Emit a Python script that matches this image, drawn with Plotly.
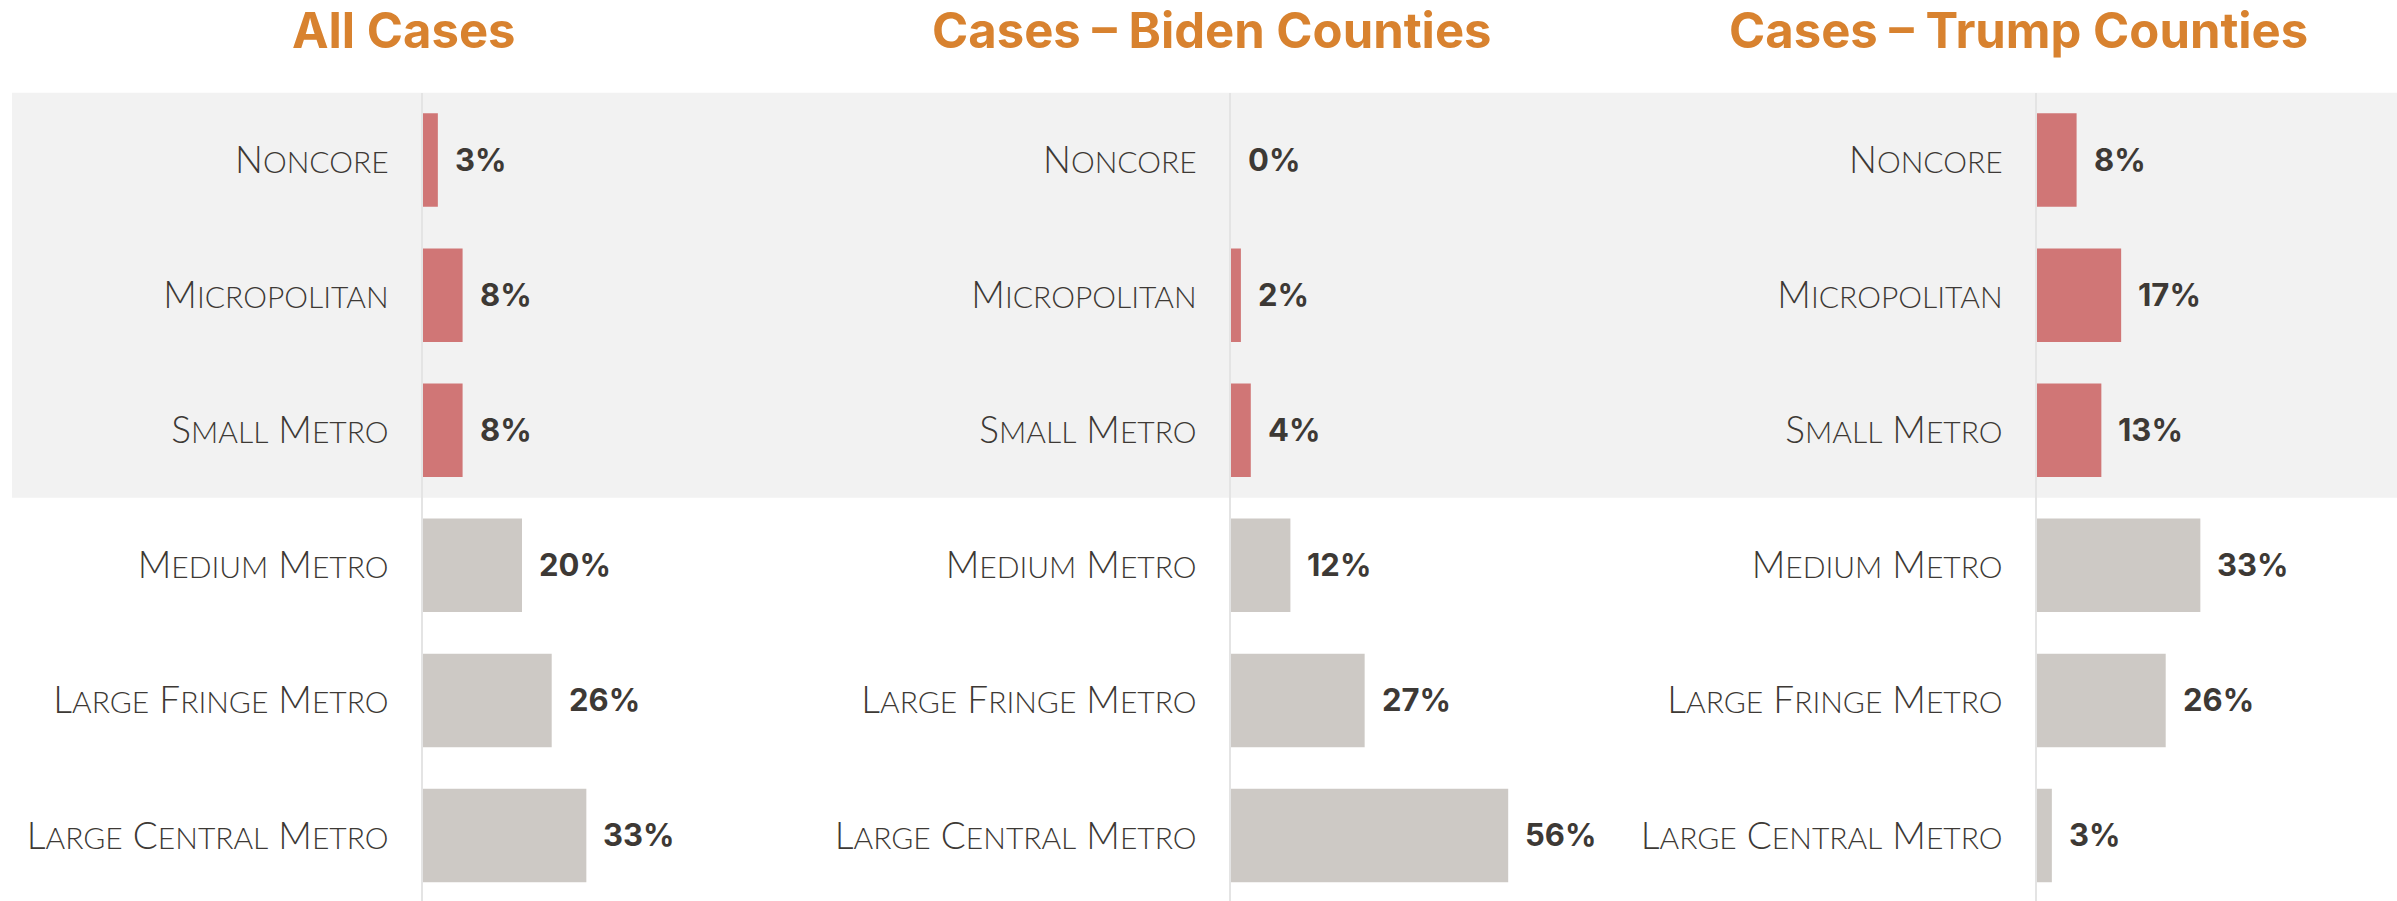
import plotly.graph_objects as go

# ---------------- data ----------------
categories = ["Noncore", "Micropolitan", "Small Metro",
              "Medium Metro", "Large Fringe Metro", "Large Central Metro"]
rural_categories = ["Noncore", "Micropolitan", "Small Metro"]
panel_titles = ["All Cases", "Cases \u2013 Biden Counties", "Cases \u2013 Trump Counties"]
all_cases = [3, 8, 8, 20, 26, 33]
biden_cases = [0, 2, 4, 12, 27, 56]
trump_cases = [8, 17, 13, 33, 26, 3]
series = [all_cases, biden_cases, trump_cases]

# ---------------- style ----------------
W, H = 2397, 901
RED = "#D07676"
GREY_BAR = "#CDC9C5"
BAND = "#F2F2F2"
TEXT = "#3D3935"
ORANGE = "#D8822F"
AXIS_LINE = "#E4E4E4"
PX_PER_UNIT = 4.95
LABEL_FONT = "Lato"
VALUE_FONT = "Inter"

axis_px = [423, 1231, 2037]          # zero line of each panel (px)
panel_right_px = [923, 1731, 2397]
plot_top_px = 92.5
row_px = 135.1

big, small = 37, 30


def small_caps(label):
    words = []
    for w in label.split(" "):
        words.append(w[0].upper() + f"<span style='font-size:{small}px'>{w[1:].upper()}</span>")
    return " ".join(words)


ticktext = [small_caps(c) for c in categories]
colors = [RED if c in rural_categories else GREY_BAR for c in categories]

fig = go.Figure()
y_top_dom = 1 - plot_top_px / H
y_range = [-0.5 + (H - plot_top_px) / row_px, -0.5]

layout = dict(
    width=W, height=H,
    margin=dict(l=0, r=0, t=0, b=0),
    paper_bgcolor="white", plot_bgcolor="rgba(0,0,0,0)",
    showlegend=False, bargap=0.308,
)

annotations = []
shapes = []
for i, vals in enumerate(series):
    n = "" if i == 0 else str(i + 1)
    xa, ya = "x" + n, "y" + n
    fig.add_trace(go.Bar(
        x=vals, y=categories, orientation="h",
        marker=dict(color=colors, line=dict(width=0)),
        xaxis=xa, yaxis=ya, hoverinfo="skip",
    ))
    x0 = axis_px[i] / W
    x1 = panel_right_px[i] / W
    layout["xaxis" + n] = dict(
        domain=[x0, x1], range=[0, (panel_right_px[i] - axis_px[i]) / PX_PER_UNIT],
        visible=False, fixedrange=True, anchor=ya,
    )
    layout["yaxis" + n] = dict(
        domain=[0, y_top_dom], range=y_range, type="category",
        categoryorder="array", categoryarray=categories,
        tickmode="array", tickvals=categories, ticktext=ticktext,
        tickfont=dict(family=LABEL_FONT, size=big, color=TEXT, weight=300),
        ticklabelstandoff=25, ticks="",
        showgrid=False, zeroline=False,
        showline=True, linecolor=AXIS_LINE, linewidth=2,
        anchor=xa, fixedrange=True,
    )
    # value labels
    for c, v in zip(categories, vals):
        annotations.append(dict(
            x=v, y=c, xref=xa, yref=ya, text=f"<b>{v}%</b>",
            showarrow=False, xanchor="left", yanchor="middle", xshift=15, yshift=1,
            font=dict(family=VALUE_FONT, size=31, color=TEXT),
        ))
    # panel title
    annotations.append(dict(
        x=(axis_px[i] - 19) / W, y=1 - 31 / H, xref="paper", yref="paper",
        text=f"<b>{panel_titles[i]}</b>", showarrow=False,
        xanchor="center", yanchor="middle",
        font=dict(family=VALUE_FONT, size=49, color=ORANGE),
    ))

# shaded band behind the rural rows
shapes.append(dict(
    type="rect", xref="paper", yref="y",
    x0=12 / W, x1=1, y0=-0.5, y1=len(rural_categories) - 0.5,
    fillcolor=BAND, line=dict(width=0), layer="below",
))

layout["annotations"] = annotations
layout["shapes"] = shapes
fig.update_layout(**layout)
fig.write_html(
    "out.html",
    config={"displayModeBar": False},
    post_script="document.body.style.margin='0';document.body.style.overflow='hidden';",
)
